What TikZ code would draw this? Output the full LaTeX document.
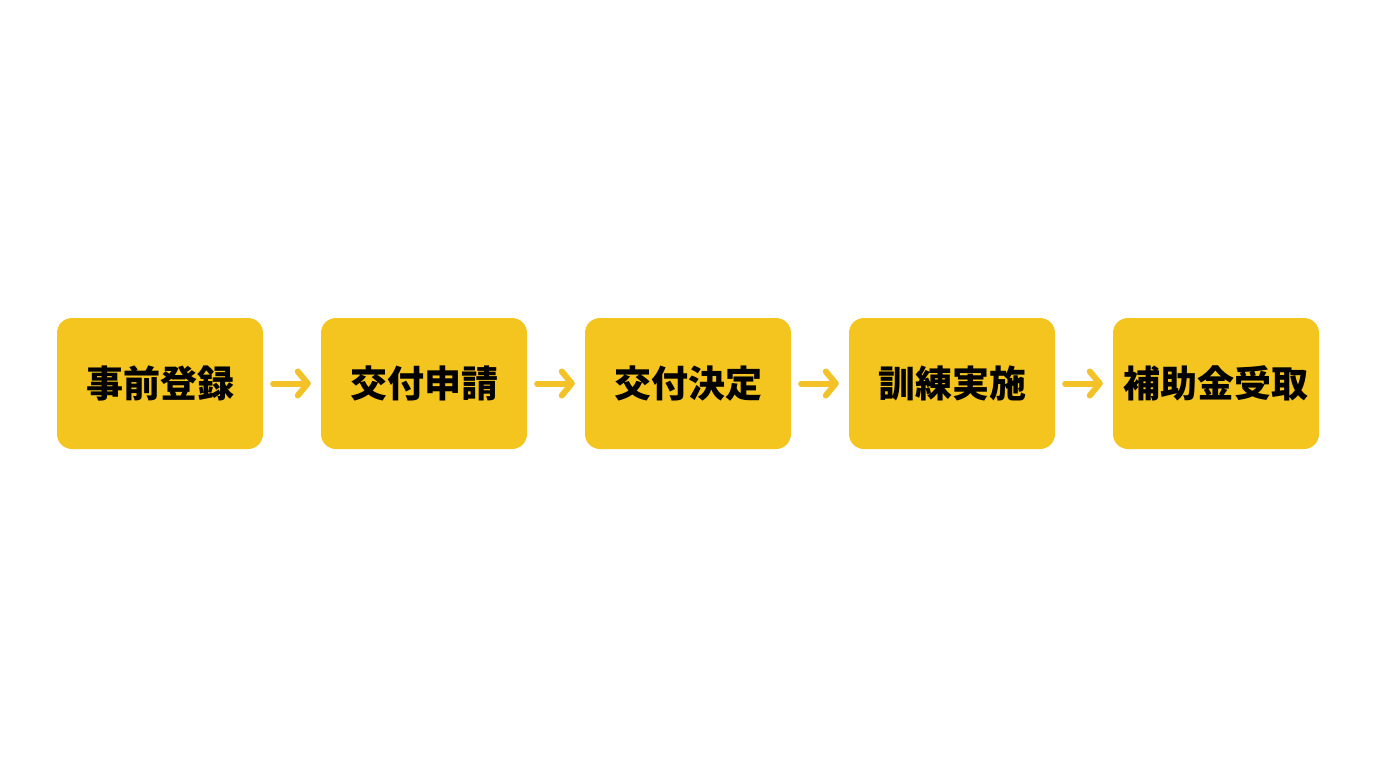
\documentclass[tikz,border=0pt]{standalone}
\usepackage{fontspec}
\newfontfamily\cjk{Noto Sans CJK JP}
\usetikzlibrary{arrows.meta}
\definecolor{boxyellow}{HTML}{F4C51F}
\definecolor{arrowyellow}{HTML}{F2C228}
\tikzset{
  stepbox/.style={fill=boxyellow, draw=none, rounded corners=15pt, minimum width=206pt, minimum height=131pt, inner sep=0pt, font=\cjk\bfseries\fontsize{37}{42}\selectfont, text=black},
  flowarrow/.style={draw=arrowyellow, line width=6pt, line cap=round, line join=round, shorten <=10pt, shorten >=10pt, -{Straight Barb[length=10pt,width=24pt,line cap=round,line join=round]}}
}
\begin{document}
\begin{tikzpicture}[x=1pt,y=-1pt]
\useasboundingbox (0,0) rectangle (1376,768);
\node[stepbox] (s1) at (160,383.5) {事前登録};
\node[stepbox] (s2) at (424,383.5) {交付申請};
\node[stepbox] (s3) at (688,383.5) {交付決定};
\node[stepbox] (s4) at (952,383.5) {訓練実施};
\node[stepbox] (s5) at (1216,383.5) {補助金受取};
\draw[flowarrow] (s1.east) -- (s2.west);
\draw[flowarrow] (s2.east) -- (s3.west);
\draw[flowarrow] (s3.east) -- (s4.west);
\draw[flowarrow] (s4.east) -- (s5.west);
\end{tikzpicture}
\end{document}
